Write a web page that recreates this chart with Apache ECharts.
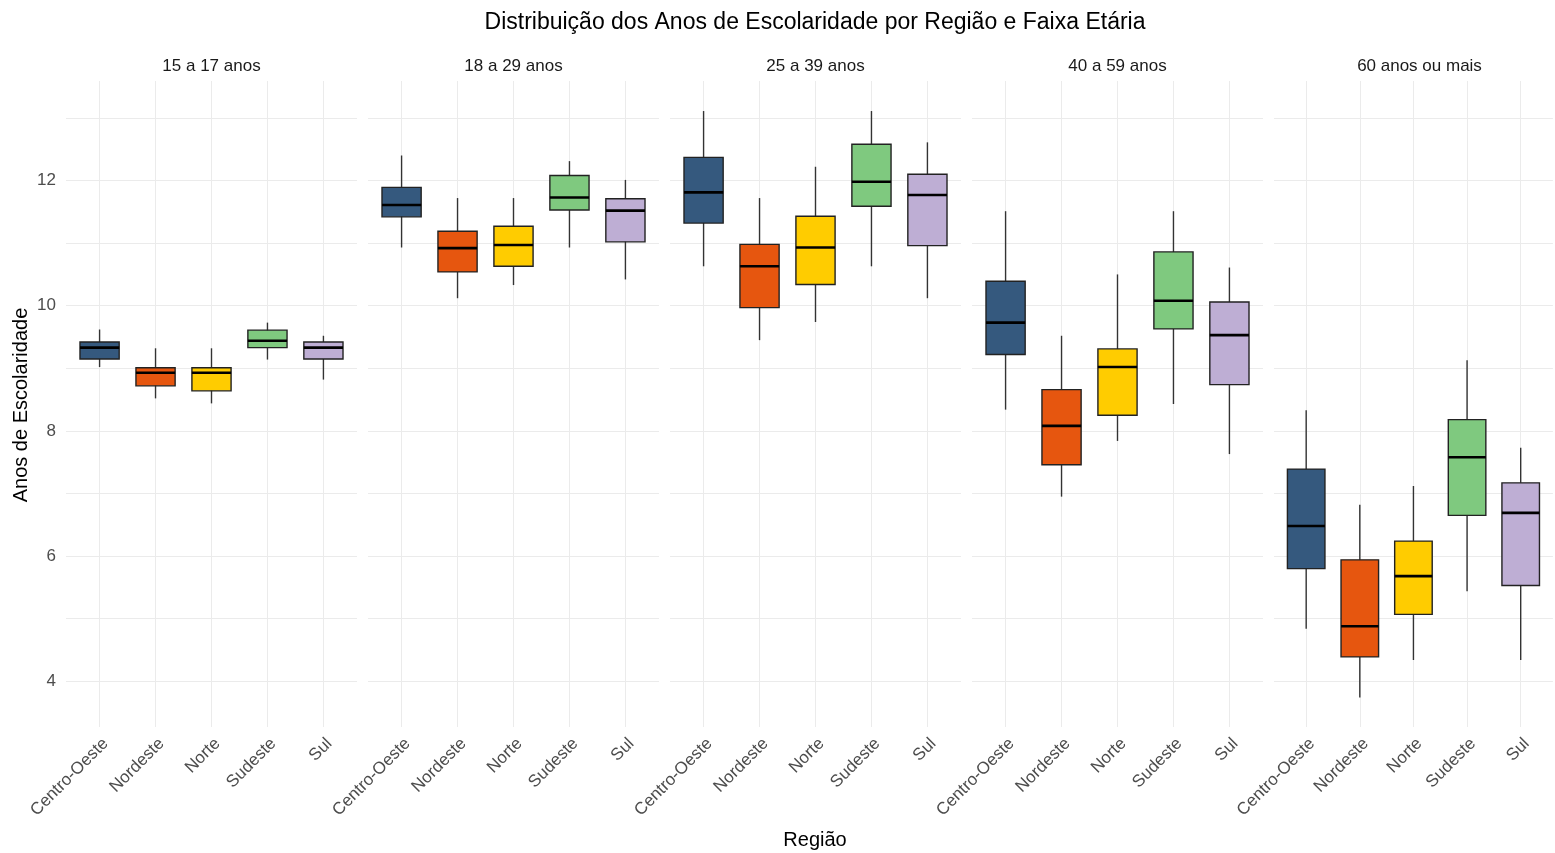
<!DOCTYPE html>
<html>
<head>
<meta charset="utf-8">
<title>Anos de Escolaridade</title>
<script src="https://cdn.jsdelivr.net/npm/echarts@6/dist/echarts.min.js"></script>
<style>
  html, body { margin: 0; padding: 0; background: #fff; }
  #chart { width: 1555px; height: 853px; }
</style>
</head>
<body>
<div id="chart"></div>
<script>
// categorias
var regioes = ['Centro-Oeste', 'Nordeste', 'Norte', 'Sudeste', 'Sul'];
var faixas = ['15 a 17 anos', '18 a 29 anos', '25 a 39 anos', '40 a 59 anos', '60 anos ou mais'];
var cores = ['#35597E', '#E6560F', '#FFCC00', '#7FC97F', '#BEAED4'];

// [min, Q1, mediana, Q3, max] por região
var f15a17 = [[9.02, 9.15, 9.33, 9.42, 9.62], [8.52, 8.72, 8.93, 9.01, 9.32], [8.44, 8.64, 8.93, 9.01, 9.32], [9.14, 9.33, 9.44, 9.61, 9.73], [8.82, 9.15, 9.33, 9.42, 9.52]];
var f18a29 = [[10.93, 11.42, 11.61, 11.89, 12.40], [10.12, 10.54, 10.92, 11.19, 11.72], [10.33, 10.63, 10.97, 11.27, 11.72], [10.93, 11.53, 11.73, 12.08, 12.31], [10.42, 11.02, 11.52, 11.71, 12.01]];
var f25a39 = [[10.63, 11.32, 11.81, 12.37, 13.11], [9.45, 9.97, 10.63, 10.98, 11.72], [9.74, 10.34, 10.93, 11.43, 12.22], [10.63, 11.59, 11.98, 12.58, 13.11], [10.12, 10.96, 11.77, 12.10, 12.61]];
var f40a59 = [[8.34, 9.22, 9.73, 10.39, 11.51], [6.95, 7.46, 8.08, 8.66, 9.52], [7.84, 8.25, 9.02, 9.31, 10.50], [8.43, 9.63, 10.08, 10.86, 11.51], [7.63, 8.74, 9.53, 10.06, 10.61]];
var f60mais = [[4.84, 5.80, 6.48, 7.39, 8.33], [3.74, 4.39, 4.88, 5.94, 6.82], [4.34, 5.07, 5.68, 6.24, 7.12], [5.44, 6.65, 7.58, 8.18, 9.13], [4.34, 5.53, 6.69, 7.17, 7.73]];
var dadosFaixas = [f15a17, f18a29, f25a39, f40a59, f60mais];

var yMin = 3.27, yMax = 13.59;

var myChart = echarts.init(document.getElementById('chart'));

var fonte = '"Liberation Sans", Arial, sans-serif';
var grids = [], xAxes = [], yAxes = [], series = [], graficos = [];

function renderBox(params, api) {
    var i = api.value(0);
    var pLo = api.coord([i, api.value(1)]);
    var pQ1 = api.coord([i, api.value(2)]);
    var pMed = api.coord([i, api.value(3)]);
    var pQ3 = api.coord([i, api.value(4)]);
    var pHi = api.coord([i, api.value(5)]);
    var w = api.size([0.7, 0])[0];
    return {
        type: 'group',
        children: [
            { type: 'line', shape: { x1: pLo[0], y1: pLo[1], x2: pHi[0], y2: pHi[1] },
              style: { stroke: '#333', lineWidth: 1.4 } },
            { type: 'rect', shape: { x: pQ1[0] - w / 2, y: pQ3[1], width: w, height: pQ1[1] - pQ3[1] },
              style: { fill: cores[i], stroke: '#222', lineWidth: 1.4 } },
            { type: 'line', shape: { x1: pMed[0] - w / 2, y1: pMed[1], x2: pMed[0] + w / 2, y2: pMed[1] },
              style: { stroke: '#000', lineWidth: 2.6 } }
        ]
    };
}

for (var k = 0; k < faixas.length; k++) {
    var left = 66 + k * 302;
    grids.push({ left: left, top: 81, width: 291, height: 646 });
    xAxes.push({
        type: 'value', gridIndex: k, min: -0.6, max: 4.6, splitNumber: 5,
        axisLine: { show: false }, axisTick: { show: false },
        splitLine: { show: true, showMinLine: false, showMaxLine: false, lineStyle: { color: '#ebebeb', width: 1 } },
        axisLabel: {
            rotate: 45, margin: 8, verticalAlign: 'top', color: '#4d4d4d', fontSize: 17, fontFamily: fonte,
            formatter: function (v) {
                var r = Math.round(v);
                return (Math.abs(v - r) < 1e-6 && regioes[r]) ? regioes[r] : '';
            }
        }
    });
    yAxes.push({
        type: 'value', gridIndex: k, min: yMin, max: yMax, splitNumber: 10,
        axisLine: { show: false }, axisTick: { show: false },
        splitLine: { show: true, showMinLine: false, showMaxLine: false, lineStyle: { color: '#ebebeb', width: 1 } },
        axisLabel: {
            show: k === 0, margin: 10, color: '#4d4d4d', fontSize: 17, fontFamily: fonte,
            showMinLabel: false, showMaxLabel: false,
            formatter: function (v) {
                var r = Math.round(v);
                return (Math.abs(v - r) < 1e-6 && r % 2 === 0) ? String(r) : '';
            }
        }
    });
    var dados = dadosFaixas[k].map(function (d, i) {
        return [i].concat(d);
    });
    series.push({
        type: 'custom', xAxisIndex: k, yAxisIndex: k,
        renderItem: renderBox,
        encode: { x: 0, y: [1, 2, 3, 4, 5] },
        data: dados
    });
    // rótulo da faixa etária
    graficos.push({
        type: 'text', x: left + 145.5, y: 66,
        style: { text: faixas[k], fill: '#1a1a1a', font: '17px ' + fonte, align: 'center', verticalAlign: 'middle' }
    });
}

graficos.push({
    type: 'text', x: 815, y: 23,
    style: { text: 'Distribuição dos Anos de Escolaridade por Região e Faixa Etária', fill: '#000',
             font: '23px ' + fonte, align: 'center', verticalAlign: 'middle' }
});
graficos.push({
    type: 'text', x: 21, y: 405, rotation: Math.PI / 2,
    style: { text: 'Anos de Escolaridade', fill: '#000', font: '20px ' + fonte, align: 'center', verticalAlign: 'middle' }
});
graficos.push({
    type: 'text', x: 815, y: 840,
    style: { text: 'Região', fill: '#000', font: '20px ' + fonte, align: 'center', verticalAlign: 'middle' }
});

var option = {
    backgroundColor: '#fff',
    animation: false,
    grid: grids,
    xAxis: xAxes,
    yAxis: yAxes,
    series: series,
    graphic: graficos
};

myChart.setOption(option);

window.onresize = function () {
    myChart.resize();
};
</script>
</body>
</html>
